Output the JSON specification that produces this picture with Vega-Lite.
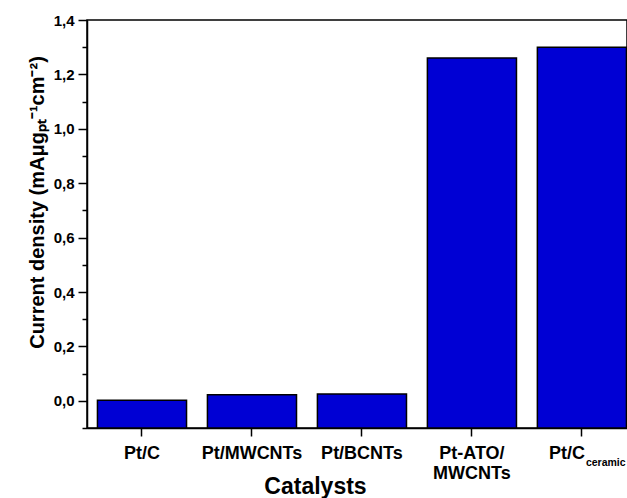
{
  "$schema": "https://vega.github.io/schema/vega-lite/v6.json",
  "width": 540,
  "height": 408,
  "autosize": {"type": "none"},
  "padding": {"left": 87, "top": 20, "right": 0, "bottom": 70},
  "background": "white",
  "config": {
    "font": "Liberation Sans",
    "locale": {"number": {"decimal": ",", "thousands": ".", "grouping": [3], "currency": ["", " €"]}},
    "view": {"stroke": "black", "strokeWidth": 1.5},
    "axis": {
      "grid": false,
      "domainColor": "black",
      "domainWidth": 1.5,
      "tickColor": "black",
      "tickWidth": 1.5,
      "labelColor": "black",
      "titleColor": "black",
      "labelFontWeight": "bold",
      "titleFontWeight": "bold",
      "labelOverlap": false,
      "labelBound": false
    }
  },
  "data": {
    "values": [
      {"catalyst": "Pt/C", "current_density": 0.002},
      {"catalyst": "Pt/MWCNTs", "current_density": 0.022},
      {"catalyst": "Pt/BCNTs", "current_density": 0.025},
      {"catalyst": "Pt-ATO/MWCNTs", "current_density": 1.26},
      {"catalyst": "Pt/C ceramic", "current_density": 1.30, "subscript": "ceramic"}
    ]
  },
  "resolve": {"axis": {"y": "independent"}},
  "layer": [
    {
      "mark": {"type": "bar", "fill": "#0000d4", "stroke": "black", "strokeWidth": 1.5},
      "encoding": {
        "x": {
          "field": "catalyst",
          "type": "nominal",
          "sort": null,
          "scale": {"paddingInner": 0.19, "paddingOuter": 0.05, "align": 0.95},
          "axis": {
            "labelAngle": 0,
            "labelFontSize": 18,
            "labelBaseline": "top",
            "labelLineHeight": 20,
            "tickSize": 8,
            "labelPadding": 8,
            "labelExpr": "datum.value == 'Pt-ATO/MWCNTs' ? ['Pt-ATO/', 'MWCNTs'] : (datum.value == 'Pt/C ceramic' ? 'Pt/C' : datum.value)",
            "labelOffset": {"condition": {"test": "datum.value == 'Pt/C ceramic'", "value": -15}, "value": 0},
            "title": "Catalysts",
            "titleFontSize": 23,
            "titleX": 228,
            "titleY": 65,
            "titleAlign": "center",
            "titleBaseline": "alphabetic"
          }
        },
        "y": {
          "field": "current_density",
          "type": "quantitative",
          "scale": {"domain": [-0.1, 1.4], "nice": false, "zero": false},
          "axis": {
            "orient": "left",
            "values": [0, 0.2, 0.4, 0.6, 0.8, 1.0, 1.2, 1.4],
            "format": ".1f",
            "tickSize": 9,
            "labelFontSize": 15,
            "labelPadding": 4,
            "title": "Current density (mAμgₚₜ⁻¹cm⁻²)",
            "titleFontSize": 20,
            "titleAngle": -90,
            "titleX": -44,
            "titleY": 182,
            "titleAlign": "center",
            "titleBaseline": "alphabetic"
          }
        },
        "y2": {"datum": -0.1}
      }
    },
    {
      "mark": {"type": "bar", "opacity": 0},
      "encoding": {
        "x": {"field": "catalyst", "type": "nominal", "sort": null},
        "y": {
          "field": "current_density",
          "type": "quantitative",
          "axis": {
            "orient": "left",
            "values": [-0.1, 0.1, 0.3, 0.5, 0.7, 0.9, 1.1, 1.3],
            "labels": false,
            "domain": false,
            "tickSize": 5,
            "title": null
          }
        },
        "y2": {"datum": -0.1}
      }
    },
    {
      "transform": [{"filter": "datum.subscript"}],
      "mark": {"type": "text", "align": "left", "baseline": "alphabetic", "dx": 4, "dy": 38, "fontSize": 10.5, "fontWeight": "bold", "color": "black"},
      "encoding": {
        "x": {"field": "catalyst", "type": "nominal", "sort": null},
        "y": {"datum": -0.1, "axis": null},
        "text": {"field": "subscript"}
      }
    }
  ]
}
